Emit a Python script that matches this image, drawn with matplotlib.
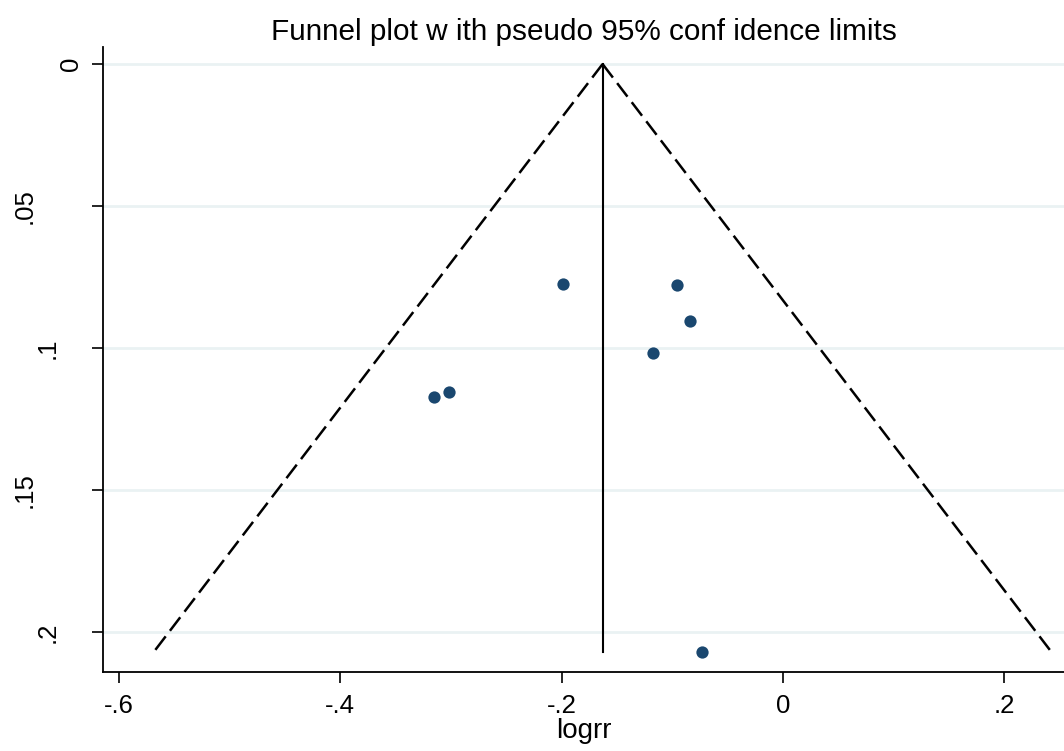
import matplotlib.pyplot as plt
import numpy as np
from matplotlib.transforms import ScaledTranslation

plt.rcParams['font.family'] = ['Liberation Sans', 'DejaVu Sans']

logrr = [-0.199, -0.0958, -0.0841, -0.1175, -0.302, -0.3156, -0.0732]
se_logrr = [0.0775, 0.0778, 0.0905, 0.1018, 0.1155, 0.1173, 0.207]
pooled = -0.163
se_max = 0.207

xticks = [-0.6, -0.4, -0.2, 0, 0.2]
xtick_labels = ['-.6', '-.4', '-.2', '0', '.2']
yticks = [0, 0.05, 0.1, 0.15, 0.2]
ytick_labels = ['0', '.05', '.1', '.15', '.2']

fig = plt.figure(figsize=(10.64, 7.51), dpi=100)
ax = fig.add_axes([0.0968, 0.1052, 0.9032, 0.8322])

se_line = np.array([0, se_max])
ax.plot(pooled - 1.96 * se_line, se_line, color='black', lw=1.8, ls=(0, (6.8, 2.8)))
ax.plot(pooled + 1.96 * se_line, se_line, color='black', lw=1.8, ls=(0, (6.8, 2.8)))
ax.plot([pooled, pooled], se_line, color='black', lw=1.5)
ax.scatter(logrr, se_logrr, s=78, color='#1a476f', zorder=3, linewidths=0)

ax.set_xlim(-0.6145, 0.254)
ax.set_ylim(0.214, -0.006)
ax.set_xticks(xticks)
ax.set_xticklabels(xtick_labels, fontsize=18.5)
ax.set_yticks(yticks)
ax.set_yticklabels(ytick_labels, fontsize=18.5, rotation=90, va='center', ha='center')
ax.tick_params(length=8, width=1.2, direction='out')
ax.tick_params(axis='x', pad=8)
ax.tick_params(axis='y', pad=15)
# stata shifts rotated labels left by their length
for lab in ax.get_yticklabels():
    n = len(lab.get_text())
    lab.set_transform(lab.get_transform() + ScaledTranslation(-(n - 1) * 0.233, 0, fig.dpi_scale_trans))
ax.grid(axis='y', color='#eaf2f3', lw=2)
ax.set_axisbelow(True)
for s in ['top', 'right']:
    ax.spines[s].set_visible(False)
for s in ['left', 'bottom']:
    ax.spines[s].set_linewidth(1.3)

ax.set_xlabel('logrr', fontsize=20, labelpad=0)
ax.set_title('Funnel plot w ith pseudo 95% conf idence limits', fontsize=21.4, pad=5)

fig.savefig('out.png', dpi=100)
